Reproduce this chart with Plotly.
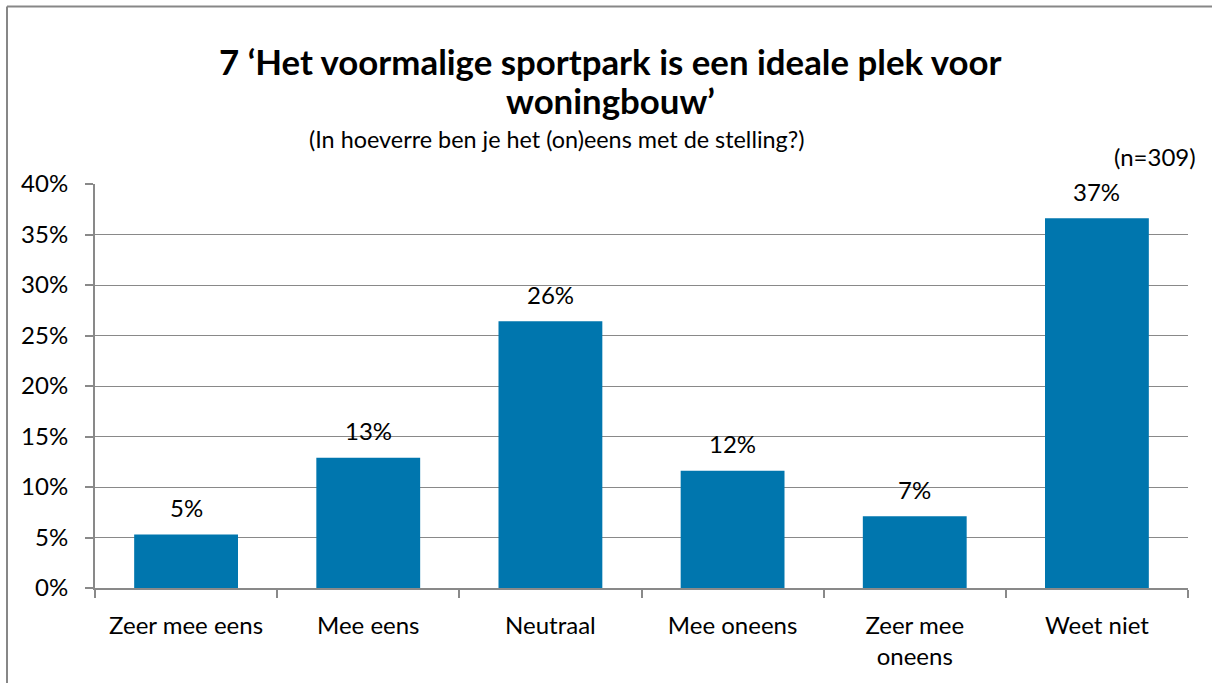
import plotly.graph_objects as go

categories = ["Zeer mee eens", "Mee eens", "Neutraal", "Mee oneens", "Zeer mee<br>oneens", "Weet niet"]
values = [5.3, 12.9, 26.4, 11.6, 7.1, 36.6]
value_labels = ["5%", "13%", "26%", "12%", "7%", "37%"]
y_ticks = [0, 5, 10, 15, 20, 25, 30, 35, 40]
y_tick_labels = ["0%", "5%", "10%", "15%", "20%", "25%", "30%", "35%", "40%"]

title_line1 = "7 \u2018Het voormalige sportpark is een ideale plek voor"
title_line2 = "woningbouw\u2019"
subtitle = "(In hoeverre ben je het (on)eens met de stelling?)"
n_note = "(n=309)"

FONT = "Lato"
BAR = "#0076AE"
GRID = "#898989"
FS = 24

W, H = 1212, 683
ML, MR, MT, MB = 95, 24, 184, 95
PW, PH = W - ML - MR, H - MT - MB

def px_x(p):
    return (p - ML) / PW

def px_y(p):
    return (H - MB - p) / PH

fig = go.Figure()
fig.add_trace(go.Bar(
    x=categories, y=values, marker=dict(color=BAR, line=dict(width=0)),
    hoverinfo="skip",
))

annotations = []
for c, v, t in zip(categories, values, value_labels):
    annotations.append(dict(x=c, y=v, xref="x", yref="y", text=t, showarrow=False,
                            yanchor="middle", yshift=27,
                            font=dict(family=FONT, size=FS, color="#000000")))

annotations += [
    dict(x=px_x(610), y=px_y(62), xref="paper", yref="paper", text=f"<b>{title_line1}</b>",
         showarrow=False, xanchor="center", yanchor="middle",
         font=dict(family=FONT, size=34.8, color="#000000")),
    dict(x=px_x(610), y=px_y(100), xref="paper", yref="paper", text=f"<b>{title_line2}</b>",
         showarrow=False, xanchor="center", yanchor="middle",
         font=dict(family=FONT, size=34.8, color="#000000")),
    dict(x=px_x(556), y=px_y(139), xref="paper", yref="paper", text=subtitle,
         showarrow=False, xanchor="center", yanchor="middle",
         font=dict(family=FONT, size=23.4, color="#000000")),
    dict(x=px_x(1198), y=px_y(157), xref="paper", yref="paper", text=n_note,
         showarrow=False, xanchor="right", yanchor="middle",
         font=dict(family=FONT, size=FS, color="#000000")),
]

border = dict(color="#878787", width=2)
fig.update_layout(
    width=W, height=H,
    margin=dict(l=ML, r=MR, t=MT, b=MB, pad=0),
    paper_bgcolor="white", plot_bgcolor="white",
    bargap=0.43, showlegend=False,
    font=dict(family=FONT, size=FS, color="#000000"),
    annotations=annotations,
    shapes=[
        dict(type="line", xref="paper", yref="paper",
             x0=px_x(7), x1=px_x(1260), y0=px_y(6.5), y1=px_y(6.5), line=border, layer="below"),
        dict(type="line", xref="paper", yref="paper",
             x0=px_x(7), x1=px_x(7), y0=px_y(6.5), y1=px_y(720), line=border, layer="below"),
    ],
)
fig.update_xaxes(
    type="category", showgrid=False, showline=True, linecolor=GRID, linewidth=2,
    ticks="outside", tickson="boundaries", ticklen=8, tickcolor=GRID, tickwidth=2,
    ticklabelstandoff=15,
    tickfont=dict(family=FONT, size=FS, color="#000000"), fixedrange=True,
)
fig.update_yaxes(
    range=[0, 40], tickvals=y_ticks, ticktext=y_tick_labels,
    showgrid=True, gridcolor=GRID, gridwidth=1, zeroline=False,
    showline=True, linecolor=GRID, linewidth=2,
    ticks="outside", ticklen=8, tickcolor=GRID, tickwidth=2, ticklabelstandoff=12,
    tickfont=dict(family=FONT, size=FS, color="#000000"), fixedrange=True,
)

fig.write_html(
    "out.html", config={"displayModeBar": False},
    post_script="document.body.style.margin='0';document.body.style.overflow='hidden';",
)
